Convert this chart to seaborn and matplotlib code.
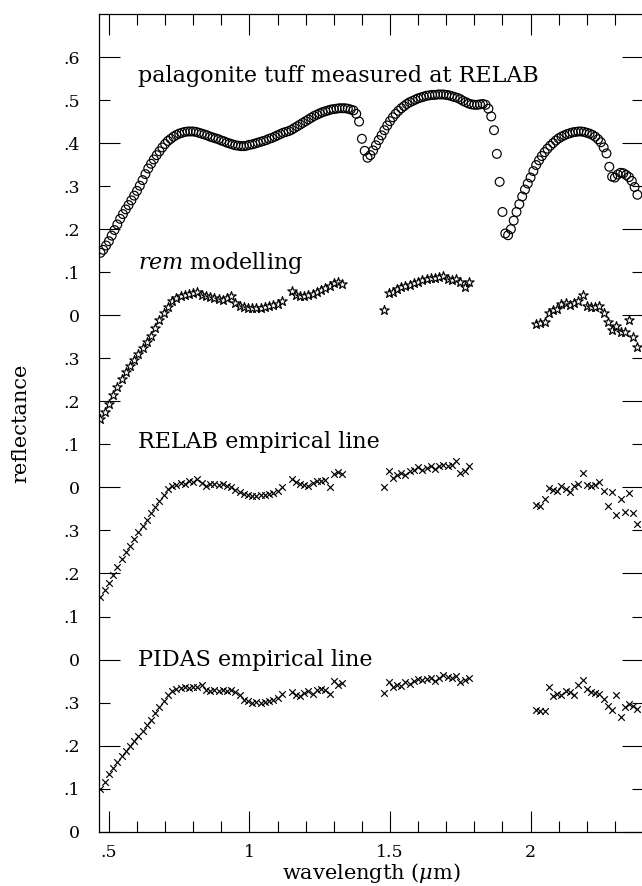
import numpy as np
import pandas as pd
import matplotlib
matplotlib.use("Agg")
import matplotlib.pyplot as plt
import seaborn as sns

# ---------------- data ----------------
# RELAB laboratory spectrum (circles), 0.01 um sampling
relab_wl = np.round(np.arange(0.47, 2.3801, 0.01), 3)
relab_refl = [
    .145, .152, .162, .172, .185, .198, .211, .224, .235, .246,
    .256, .267, .278, .289, .301, .314, .328, .341, .352, .362,
    .372, .381, .390, .398, .405, .410, .415, .419, .422, .424,
    .426, .427, .427, .427, .426, .424, .422, .420, .418, .415,
    .413, .411, .409, .406, .404, .401, .399, .397, .395, .394,
    .393, .393, .394, .396, .397, .399, .401, .403, .405, .407,
    .410, .412, .415, .418, .421, .424, .426, .428, .431, .435,
    .439, .443, .447, .451, .455, .459, .463, .466, .469, .472,
    .474, .476, .478, .479, .480, .481, .481, .481, .480, .478,
    .476, .468, .450, .410, .382, .366, .372, .383, .395, .407,
    .418, .430, .441, .451, .460, .468, .475, .481, .486, .491,
    .495, .498, .501, .504, .506, .508, .510, .511, .512, .512,
    .513, .513, .513, .512, .511, .509, .507, .505, .502, .498,
    .495, .492, .490, .489, .489, .490, .491, .489, .480, .462,
    .430, .375, .310, .240, .190, .186, .200, .220, .240, .258,
    .276, .292, .306, .320, .335, .349, .360, .370, .379, .387,
    .394, .400, .406, .411, .415, .418, .421, .423, .425, .426,
    .427, .427, .426, .424, .422, .419, .415, .409, .402, .390,
    .376, .345, .322, .320, .327, .331, .330, .326, .321, .312,
    .298, .280,
]

# sensor band centres (4 spectral windows)
band_wl = np.round(np.concatenate([
    np.arange(0.470, 1.1151, 0.015),
    np.arange(1.150, 1.3301, 0.015),
    np.arange(1.480, 1.7801, 0.015),
    np.arange(2.020, 2.3801, 0.015),
]), 3)

rem_refl = [
    .160, .176, .194, .214, .233, .251, .267, .282, .296, .309,
    .323, .337, .352, .370, .388, .405, .420, .432, .440, .444,
    .447, .449, .451, .453, .448, .445, .442, .439, .437, .436,
    .440, .444, .429, .422, .419, .417, .416, .417, .418, .420,
    .421, .424, .427, .433,
    .456, .448, .444, .445, .446, .449, .453, .458, .463, .468, .474, .478, .472,
    .413, .452, .455, .460, .465, .468, .471, .474, .478, .481, .485,
    .487, .486, .490, .491, .485, .482, .484, .478, .466, .477,
    .380, .381, .384, .405, .412, .415, .425, .429, .424, .428, .434,
    .446, .422, .420, .419, .422, .405, .385, .365, .376, .362, .360,
    .388, .350, .326,
]

relab_emp_refl = [
    .146, .162, .179, .197, .216, .233, .249, .264, .280, .296,
    .311, .325, .340, .355, .369, .383, .396, .403, .406, .411,
    .409, .415, .413, .419, .410, .404, .407, .409, .406, .408,
    .403, .401, .395, .390, .385, .382, .380, .381, .382, .383,
    .385, .388, .392, .402,
    .420, .412, .409, .405, .403, .411, .414, .416, .418, .401, .430, .436, .432,
    .402, .439, .422, .429, .433, .428, .437, .441, .447, .440, .446,
    .450, .443, .449, .452, .450, .451, .462, .433, .437, .449,
    .359, .357, .372, .398, .393, .392, .403, .396, .390, .404, .407,
    .433, .405, .403, .406, .413, .392, .356, .390, .336, .373, .343,
    .388, .340, .315,
]

pidas_emp_refl = [
    .100, .116, .133, .147, .161, .175, .187, .199, .211, .223,
    .235, .247, .260, .275, .290, .304, .317, .327, .331, .333,
    .336, .335, .337, .336, .340, .330, .327, .330, .328, .330,
    .327, .329, .325, .318, .307, .303, .299, .301, .300, .302,
    .303, .306, .310, .320,
    .325, .318, .316, .322, .326, .320, .330, .331, .329, .319, .350, .340, .346,
    .322, .348, .337, .341, .338, .348, .344, .350, .355, .352, .354,
    .357, .351, .358, .364, .360, .357, .361, .347, .353, .356,
    .282, .281, .281, .336, .315, .320, .318, .327, .325, .317, .340,
    .353, .331, .325, .323, .321, .309, .291, .282, .317, .266, .290,
    .297, .292, .286,
]

panel_names = ["palagonite tuff measured at RELAB", "$rem$ modelling",
               "RELAB empirical line", "PIDAS empirical line"]
panel_offsets = [1.2, 0.8, 0.4, 0.0]

x_major = [0.5, 1.0, 1.5, 2.0]
x_major_labels = [".5", "1", "1.5", "2"]
y_major = [0.0, 0.2, 0.4, 0.6, 0.8, 1.0, 1.2, 1.4, 1.6, 1.8]
y_major_labels = ["0", ".2", "0", ".2", "0", ".2", "0", ".2", ".4", ".6"]
y_minor = [0.1, 0.3, 0.5, 0.7, 0.9, 1.1, 1.3, 1.5, 1.7]
y_minor_labels = [".1", ".3", ".1", ".3", ".1", ".3", ".1", ".3", ".5"]

# ---------------- style ----------------
sns.set_theme(style="ticks")
plt.rcParams["font.family"] = ["DejaVu Serif"]
plt.rcParams["mathtext.fontset"] = "dejavuserif"
plt.rcParams["axes.unicode_minus"] = False

fig = plt.figure(figsize=(6.42, 8.86), dpi=100)
ax = fig.add_axes([0.1547, 0.0613, 0.8469, 0.9229])

df1 = pd.DataFrame({"wl": relab_wl, "y": np.array(relab_refl) + panel_offsets[0]})
df2 = pd.DataFrame({"wl": band_wl, "y": np.array(rem_refl) + panel_offsets[1]})
df3 = pd.DataFrame({"wl": band_wl, "y": np.array(relab_emp_refl) + panel_offsets[2]})
df4 = pd.DataFrame({"wl": band_wl, "y": np.array(pidas_emp_refl) + panel_offsets[3]})

sns.scatterplot(data=df1, x="wl", y="y", ax=ax, marker="o", s=40,
                facecolor="none", edgecolor="black", linewidth=0.85, legend=False)
sns.scatterplot(data=df2, x="wl", y="y", ax=ax, marker="*", s=50,
                facecolor="white", edgecolor="black", linewidth=0.85, legend=False)
sns.scatterplot(data=df3, x="wl", y="y", ax=ax, marker="x", s=22,
                color="black", linewidth=0.85, legend=False)
sns.scatterplot(data=df4, x="wl", y="y", ax=ax, marker="x", s=22,
                color="black", linewidth=0.85, legend=False)

label_y = [1.757, 1.321, 0.905, 0.40]
for name, ly in zip(panel_names, label_y):
    ax.text(0.602, ly, name, fontsize=16, ha="left", va="center", color="black")

ax.set_xlim(0.466, 2.380)
ax.set_ylim(0.0, 1.9)

ax.set_xticks(x_major, labels=x_major_labels)
ax.set_xticks(np.round(np.arange(0.5, 2.41, 0.1), 2), minor=True)
ax.set_yticks(y_major, labels=y_major_labels)
ax.set_yticks(y_minor, labels=y_minor_labels, minor=True)

ax.tick_params(which="both", direction="in", top=True, right=True,
               width=0.8, color="black", labelsize=12.5, labelcolor="black")
ax.tick_params(which="major", length=15)
ax.tick_params(which="minor", length=8)
ax.tick_params(axis="y", which="both", pad=14)
ax.tick_params(axis="x", which="both", pad=9)

for sp in ax.spines.values():
    sp.set_visible(True)
    sp.set_color("black")
    sp.set_linewidth(0.9)

ax.set_xlabel("wavelength ($\\mu$m)", fontsize=15, labelpad=0, color="black")
ax.set_ylabel("reflectance", fontsize=15, labelpad=24, color="black")
ax.set_facecolor("white")
fig.patch.set_facecolor("white")

fig.savefig("out.png", dpi=100)
